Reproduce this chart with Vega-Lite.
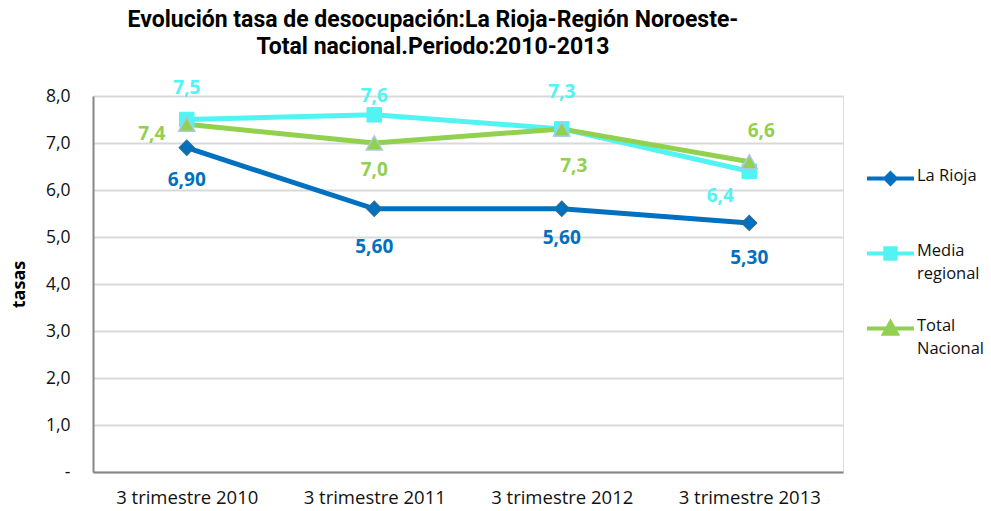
{
  "$schema": "https://vega.github.io/schema/vega-lite/v6.json",
  "autosize": {"type": "none"},
  "padding": {"left": 93, "top": 96, "right": 148, "bottom": 39},
  "width": 750,
  "height": 376,
  "background": "white",
  "title": {
    "text": ["Evolución tasa de desocupación:La Rioja-Región Noroeste-", "Total nacional.Periodo:2010-2013"],
    "font": "Roboto",
    "fontSize": 23,
    "fontWeight": "bold",
    "color": "#000000",
    "anchor": "middle",
    "dx": -35,
    "lineHeight": 27,
    "offset": 20
  },
  "data": {
    "values": [
      {"serie": "La Rioja", "periodo": "3 trimestre 2010", "tasa": 6.9, "etiqueta": "6,90"},
      {"serie": "La Rioja", "periodo": "3 trimestre 2011", "tasa": 5.6, "etiqueta": "5,60"},
      {"serie": "La Rioja", "periodo": "3 trimestre 2012", "tasa": 5.6, "etiqueta": "5,60"},
      {"serie": "La Rioja", "periodo": "3 trimestre 2013", "tasa": 5.3, "etiqueta": "5,30"},
      {"serie": "Media regional", "periodo": "3 trimestre 2010", "tasa": 7.5, "etiqueta": "7,5"},
      {"serie": "Media regional", "periodo": "3 trimestre 2011", "tasa": 7.6, "etiqueta": "7,6"},
      {"serie": "Media regional", "periodo": "3 trimestre 2012", "tasa": 7.3, "etiqueta": "7,3"},
      {"serie": "Media regional", "periodo": "3 trimestre 2013", "tasa": 6.4, "etiqueta": "6,4"},
      {"serie": "Total Nacional", "periodo": "3 trimestre 2010", "tasa": 7.4, "etiqueta": "7,4"},
      {"serie": "Total Nacional", "periodo": "3 trimestre 2011", "tasa": 7.0, "etiqueta": "7,0"},
      {"serie": "Total Nacional", "periodo": "3 trimestre 2012", "tasa": 7.3, "etiqueta": "7,3"},
      {"serie": "Total Nacional", "periodo": "3 trimestre 2013", "tasa": 6.6, "etiqueta": "6,6"}
    ]
  },
  "encoding": {
    "x": {
      "field": "periodo",
      "type": "ordinal",
      "scale": {"type": "point", "padding": 0.5},
      "axis": {
        "title": null,
        "labelAngle": 0,
        "labelFont": "Open Sans",
        "labelFontSize": 18.5,
        "labelColor": "#111111",
        "labelPadding": 16,
        "ticks": false,
        "domainColor": "#868686",
        "domainWidth": 2,
        "grid": false
      }
    },
    "y": {
      "field": "tasa",
      "type": "quantitative",
      "scale": {"domain": [0, 8], "nice": false, "zero": true},
      "axis": {
        "title": "tasas",
        "titleFont": "Open Sans",
        "titleFontSize": 18,
        "titleFontWeight": "bold",
        "titleColor": "#000000",
        "titlePadding": 17,
        "values": [0, 1, 2, 3, 4, 5, 6, 7, 8],
        "labelExpr": "datum.value == 0 ? '-' : replace(format(datum.value, '.1f'), '.', ',')",
        "labelFont": "Open Sans",
        "labelFontSize": 17.5,
        "labelColor": "#111111",
        "labelPadding": 23,
        "ticks": false,
        "domainColor": "#868686",
        "domainWidth": 2,
        "gridColor": "#D9D9D9",
        "gridWidth": 2
      }
    },
    "color": {
      "field": "serie",
      "type": "nominal",
      "scale": {"domain": ["La Rioja", "Media regional", "Total Nacional"], "range": ["#0070C0", "#52F3F3", "#92D050"]},
      "legend": {
        "title": null,
        "orient": "none",
        "legendX": 772,
        "legendY": 57,
        "symbolSize": 2209,
        "symbolStrokeWidth": 4,
        "rowPadding": 21,
        "labelFont": "Open Sans",
        "labelFontSize": 16.5,
        "labelColor": "#111111",
        "labelOffset": 1,
        "labelBaseline": "top",
        "labelExpr": "datum.label == 'Media regional' ? ['Media', 'regional'] : datum.label == 'Total Nacional' ? ['Total', 'Nacional'] : ['La Rioja', '']",
        "encode": {
          "labels": {
            "update": {
              "dy": {"value": -11},
              "lineHeight": {"value": 23}
            }
          },
          "symbols": {
            "update": {
              "shape": {"signal": "datum.value == 'La Rioja' ? 'M-1,0L1,0M0,-0.22L0.22,0L0,0.22L-0.22,0Z' : datum.value == 'Media regional' ? 'M-1,0L1,0M-0.22,-0.22L0.22,-0.22L0.22,0.22L-0.22,0.22Z' : 'M-1,0L1,0M0,-0.26L0.27,0.22L-0.27,0.22Z'"},
              "strokeWidth": {"value": 4}
            }
          }
        }
      }
    }
  },
  "layer": [
    {
      "mark": {"type": "line", "strokeWidth": 5},
      "encoding": {"order": {"field": "periodo"}}
    },
    {
      "transform": [{"filter": "datum.serie == 'La Rioja'"}],
      "mark": {"type": "point", "shape": "diamond", "size": 230, "filled": true, "fill": "#0070C0", "stroke": "#2F6E8C", "strokeWidth": 1.2, "opacity": 1}
    },
    {
      "transform": [{"filter": "datum.serie == 'Media regional'"}],
      "mark": {"type": "point", "shape": "square", "size": 210, "filled": true, "fill": "#52F3F3", "stroke": "#52F3F3", "strokeWidth": 1, "opacity": 1}
    },
    {
      "transform": [{"filter": "datum.serie == 'Total Nacional'"}],
      "mark": {"type": "point", "shape": "triangle-up", "size": 260, "filled": true, "fill": "#92D050", "stroke": "#A9C8E6", "strokeWidth": 1.5, "opacity": 1}
    },
    {
      "transform": [{"filter": "datum.serie == 'La Rioja' && datum.periodo == '3 trimestre 2010'"}],
      "mark": {"type": "text", "font": "Open Sans", "fontSize": 19, "fontWeight": "bold", "dy": 32},
      "encoding": {"text": {"field": "etiqueta"}}
    },
    {
      "transform": [{"filter": "datum.serie == 'La Rioja' && datum.periodo == '3 trimestre 2011'"}],
      "mark": {"type": "text", "font": "Open Sans", "fontSize": 19, "fontWeight": "bold", "dy": 38},
      "encoding": {"text": {"field": "etiqueta"}}
    },
    {
      "transform": [{"filter": "datum.serie == 'La Rioja' && datum.periodo == '3 trimestre 2012'"}],
      "mark": {"type": "text", "font": "Open Sans", "fontSize": 19, "fontWeight": "bold", "dy": 29},
      "encoding": {"text": {"field": "etiqueta"}}
    },
    {
      "transform": [{"filter": "datum.serie == 'La Rioja' && datum.periodo == '3 trimestre 2013'"}],
      "mark": {"type": "text", "font": "Open Sans", "fontSize": 19, "fontWeight": "bold", "dy": 35},
      "encoding": {"text": {"field": "etiqueta"}}
    },
    {
      "transform": [{"filter": "datum.serie == 'Media regional' && datum.periodo == '3 trimestre 2010'"}],
      "mark": {"type": "text", "font": "Open Sans", "fontSize": 19, "fontWeight": "bold", "dy": -32},
      "encoding": {"text": {"field": "etiqueta"}}
    },
    {
      "transform": [{"filter": "datum.serie == 'Media regional' && datum.periodo == '3 trimestre 2011'"}],
      "mark": {"type": "text", "font": "Open Sans", "fontSize": 19, "fontWeight": "bold", "dy": -19},
      "encoding": {"text": {"field": "etiqueta"}}
    },
    {
      "transform": [{"filter": "datum.serie == 'Media regional' && datum.periodo == '3 trimestre 2012'"}],
      "mark": {"type": "text", "font": "Open Sans", "fontSize": 19, "fontWeight": "bold", "dy": -37},
      "encoding": {"text": {"field": "etiqueta"}}
    },
    {
      "transform": [{"filter": "datum.serie == 'Media regional' && datum.periodo == '3 trimestre 2013'"}],
      "mark": {"type": "text", "font": "Open Sans", "fontSize": 19, "fontWeight": "bold", "dx": -29, "dy": 25},
      "encoding": {"text": {"field": "etiqueta"}}
    },
    {
      "transform": [{"filter": "datum.serie == 'Total Nacional' && datum.periodo == '3 trimestre 2010'"}],
      "mark": {"type": "text", "font": "Open Sans", "fontSize": 19, "fontWeight": "bold", "dx": -35, "dy": 10},
      "encoding": {"text": {"field": "etiqueta"}}
    },
    {
      "transform": [{"filter": "datum.serie == 'Total Nacional' && datum.periodo == '3 trimestre 2011'"}],
      "mark": {"type": "text", "font": "Open Sans", "fontSize": 19, "fontWeight": "bold", "dy": 27},
      "encoding": {"text": {"field": "etiqueta"}}
    },
    {
      "transform": [{"filter": "datum.serie == 'Total Nacional' && datum.periodo == '3 trimestre 2012'"}],
      "mark": {"type": "text", "font": "Open Sans", "fontSize": 19, "fontWeight": "bold", "dx": 12, "dy": 37},
      "encoding": {"text": {"field": "etiqueta"}}
    },
    {
      "transform": [{"filter": "datum.serie == 'Total Nacional' && datum.periodo == '3 trimestre 2013'"}],
      "mark": {"type": "text", "font": "Open Sans", "fontSize": 19, "fontWeight": "bold", "dx": 12, "dy": -31},
      "encoding": {"text": {"field": "etiqueta"}}
    }
  ]
}
